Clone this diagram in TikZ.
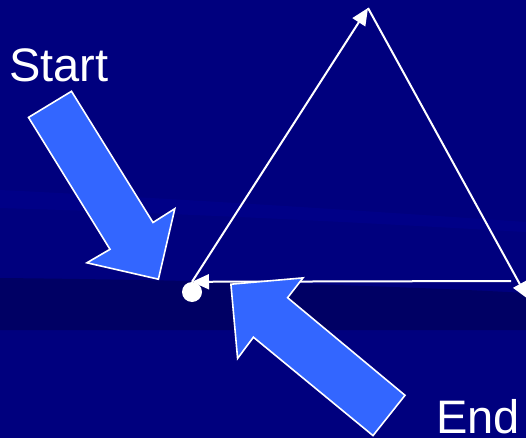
\documentclass[tikz,border=0pt]{standalone}
\usepackage{fontspec}
\setmainfont{Liberation Sans}
\usetikzlibrary{arrows.meta}
\definecolor{bgnavy}{RGB}{0,0,126}
\definecolor{bgdark}{RGB}{0,0,100}
\definecolor{bglight}{RGB}{0,0,145}
\definecolor{bigblue}{RGB}{51,102,255}
\tikzset{
  vec/.style={draw=white, line width=2pt, -{Triangle[length=17pt,width=15pt]}},
  fatarrow/.style={fill=bigblue, draw=white, line width=1.6pt, line join=miter},
  lbl/.style={text=white, font=\fontsize{47}{50}\selectfont, inner sep=0pt, anchor=base west},
  dotnode/.style={circle, fill=white, minimum size=20pt, inner sep=0pt}
}
\begin{document}
\begin{tikzpicture}[x=1pt,y=-1pt]
\useasboundingbox (0,0) rectangle (526,438);
% background
\fill[bgnavy] (0,0) rectangle (526,438);
\fill[bglight, opacity=0.5] (0,190) .. controls (200,200) and (350,210) .. (526,222) -- (526,232) .. controls (350,222) and (200,214) .. (0,208) -- cycle;
\fill[bgdark] (0,278) .. controls (200,280) and (400,286) .. (526,293) -- (526,330) -- (0,330) -- cycle;
% labels
\node[lbl] (lstart) at (9,82) {Start};
\node[lbl] (lend) at (436,433) {End};
% triangle
\node[dotnode] (dot) at (192,292) {};
\coordinate (top) at (368,8);
\coordinate (rv) at (528,299);
\coordinate (hs) at (511,281);
\draw[vec] (dot.north) -- (top);
\draw[vec] (top) -- (rv);
\draw[vec] (hs) -- (dot.north);
% big arrows
\draw[fatarrow] (28.5,117.4) -- (71.5,91.3) -- (153,222.5) -- (174.8,208.7) -- (158.4,279.2) -- (86.9,262.8) -- (110,249.3) -- cycle;
\draw[fatarrow] (373,435.6) -- (405,395.3) -- (287.6,297.7) -- (303,277.9) -- (230.9,284.2) -- (237.6,358.4) -- (253.4,337.2) -- cycle;
\end{tikzpicture}
\end{document}
